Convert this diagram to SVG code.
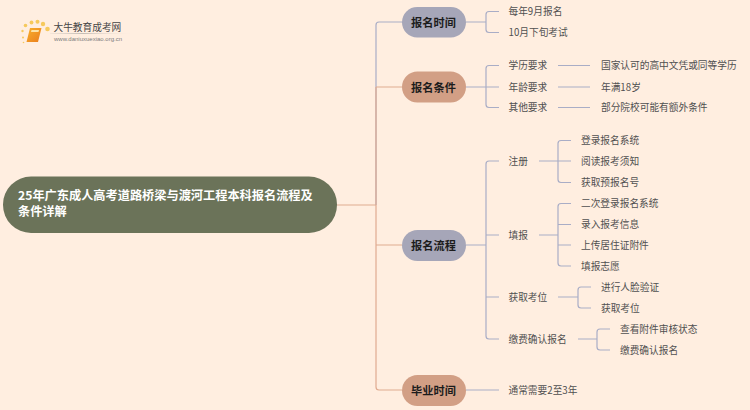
<svg xmlns="http://www.w3.org/2000/svg" width="750" height="410" viewBox="0 0 750 410">
<defs>
<linearGradient id="rule" x1="0" x2="1" y1="0" y2="0"><stop offset="0" stop-color="#c9c2bb" stop-opacity="0.2"/><stop offset="0.4" stop-color="#c4bdb6"/><stop offset="1" stop-color="#ffeee0" stop-opacity="0"/></linearGradient>
<linearGradient id="book" x1="0" x2="1" y1="0" y2="1"><stop offset="0" stop-color="#f8b02c"/><stop offset="1" stop-color="#ea7d1c"/></linearGradient>
</defs>
<style>
text{font-family:"Noto Sans CJK SC","Liberation Sans",sans-serif;dominant-baseline:central}
.t{font-size:9.7px;fill:#505050}
.p{font-size:11.2px;font-weight:700;fill:#1c1c1c;text-anchor:middle}
.r{font-size:12.2px;font-weight:700;fill:#fff}
.c{fill:none;stroke-width:1.2}
.b{stroke:#a9adc6}
.s{stroke:#e0ab90}
.d{fill:#f6c95c}
</style>
<rect width="750" height="410" fill="#ffeee0"/>
<g id="logo">
<circle class="d" cx="22.500" cy="31" r="1.200"/><circle class="d" cx="25.500" cy="25.500" r="1.800"/><circle class="d" cx="31.500" cy="22.500" r="1.900"/><circle class="d" cx="37.500" cy="21.700" r="2"/><circle class="d" cx="43" cy="24" r="2.200"/><circle class="d" cx="47.500" cy="29" r="2.300"/><circle class="d" cx="23" cy="37.500" r="1"/><circle class="d" cx="23.500" cy="42.500" r="0.800"/>
<path d="M30 28h11.500l-3.500 14h-11.500z" fill="url(#book)"/>
<path d="M31.500 30h7.500l-0.500 2h-7.500z" fill="#fde3a6"/>
<text x="53.500" y="27" style="font-size:9.700px" fill="#454545">大牛教育成考网</text>
<rect x="50" y="33" width="84" height="1" fill="url(#rule)"/>
<text x="54" y="39" style="font-size:6px;font-family:'Liberation Sans',sans-serif" fill="#7d7d7d">www.daniuxuexiao.org.cn</text>
</g>
<g id="connectors">
<path class="c s" d="M337 205H376"/>
<path class="c b" d="M402 22H379q-3 0-3 3V205"/>
<path class="c s" d="M402 87H376M376 87V387q0 3 3 3H402M376 245H402"/>
<path class="c b" d="M466 22H486M499 11.500H489q-3 0-3 3V29.500q0 3 3 3H499"/>
<path class="c b" d="M466 87H499M499 65.500H489q-3 0-3 3V104.500q0 3 3 3H499"/>
<path class="c b" d="M558 65.500H590M558 87H590M558 107.500H590"/>
<path class="c b" d="M466 245H486M499 161H489q-3 0-3 3V336q0 3 3 3H499M486 235H499M486 297H499"/>
<path class="c b" d="M539 161H571M571 140.500H561q-3 0-3 3V179.500q0 3 3 3H571"/>
<path class="c b" d="M539 235H558M571 203.500H561q-3 0-3 3V263q0 3 3 3H571M558 224.500H571M558 245H571"/>
<path class="c b" d="M558 297H578M591 287H581q-3 0-3 3V305q0 3 3 3H591"/>
<path class="c b" d="M578 339H597M610 329H600q-3 0-3 3V347q0 3 3 3H610"/>
<path class="c b" d="M466 390H499"/>
</g>
<g id="root"><rect x="3" y="176.500" width="334" height="56.500" rx="28" fill="#6b7359"/><text class="r" x="18" y="194.500">25年广东成人高考道路桥梁与渡河工程本科报名流程及</text><text class="r" x="18" y="211">条件详解</text></g>
<g id="n1"><rect x="402" y="7" width="64" height="30.500" rx="15.250" fill="#a6a6b8"/><text class="p" x="433.500" y="21.500">报名时间</text></g>
<g id="n2"><rect x="402" y="71.500" width="64" height="31" rx="15.500" fill="#d29f85"/><text class="p" x="433.500" y="86.500">报名条件</text></g>
<g id="n3"><rect x="402" y="230" width="64" height="31" rx="15.500" fill="#a6a6b8"/><text class="p" x="433.500" y="245">报名流程</text></g>
<g id="n4"><rect x="402" y="375" width="64" height="31" rx="15.500" fill="#d29f85"/><text class="p" x="433.500" y="390">毕业时间</text></g>
<g id="labels">
<text class="t" x="508.500" y="11">每年9月报名</text>
<text class="t" x="508.500" y="32">10月下旬考试</text>
<text class="t" x="508.500" y="65">学历要求</text>
<text class="t" x="508.500" y="86.500">年龄要求</text>
<text class="t" x="508.500" y="107">其他要求</text>
<text class="t" x="601" y="65">国家认可的高中文凭或同等学历</text>
<text class="t" x="601" y="86.500">年满18岁</text>
<text class="t" x="601" y="107">部分院校可能有额外条件</text>
<text class="t" x="508.500" y="160.500">注册</text>
<text class="t" x="581" y="140">登录报名系统</text>
<text class="t" x="581" y="160.500">阅读报考须知</text>
<text class="t" x="581" y="182">获取预报名号</text>
<text class="t" x="508.500" y="234.500">填报</text>
<text class="t" x="581" y="203">二次登录报名系统</text>
<text class="t" x="581" y="224">录入报考信息</text>
<text class="t" x="581" y="244.500">上传居住证附件</text>
<text class="t" x="581" y="265.500">填报志愿</text>
<text class="t" x="508.500" y="296.500">获取考位</text>
<text class="t" x="601" y="286.500">进行人脸验证</text>
<text class="t" x="601" y="307.500">获取考位</text>
<text class="t" x="508.500" y="339">缴费确认报名</text>
<text class="t" x="620" y="328.500">查看附件审核状态</text>
<text class="t" x="620" y="349.500">缴费确认报名</text>
<text class="t" x="508.500" y="390">通常需要2至3年</text>
</g>
</svg>
